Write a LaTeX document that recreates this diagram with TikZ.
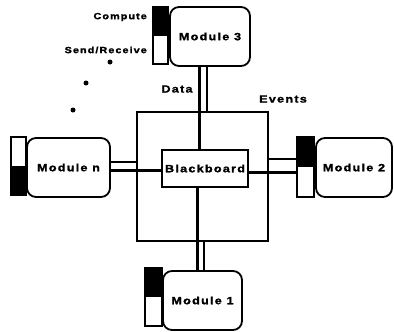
\documentclass[tikz,border=0pt]{standalone}
\usepackage{fontspec}
\newfontfamily\lblfont[FakeStretch=1.2,LetterSpace=12,FakeBold=1.5]{Liberation Sans}
\begin{document}
\begin{tikzpicture}[x=1pt,y=-1pt,
  modbox/.style={draw, line width=1.8pt, rounded corners=9pt, fill=white, inner sep=0pt,
    font={\lblfont\bfseries\fontsize{10.5}{12}\selectfont}},
  bbox/.style={draw, line width=1.8pt, fill=white, inner sep=0pt,
    font={\lblfont\bfseries\fontsize{10.5}{12}\selectfont}},
  barbox/.style={draw, line width=1.6pt, fill=white, inner sep=0pt},
  busbox/.style={draw, line width=1.1pt, inner sep=0pt},
  thickln/.style={line width=3pt},
  thinln/.style={line width=1.1pt},
  midlbl/.style={inner sep=0pt, font={\lblfont\bfseries\fontsize{10.5}{12}\selectfont}},
  smalllbl/.style={inner sep=0pt, font={\lblfont\bfseries\fontsize{9}{10}\selectfont}},
  dotmark/.style={circle, fill, inner sep=0pt, minimum size=5pt}
]
\useasboundingbox (0,0) rectangle (394,332);
% bus frame
\node[busbox, minimum width=131pt, minimum height=129pt] (bus) at (202.5,176.5) {};
% reference coordinates for connector positions
\coordinate (xt) at (199,0);
\coordinate (xts) at (207,0);
\coordinate (xb) at (197,0);
\coordinate (xbs) at (204,0);
\coordinate (yl) at (0,170);
\coordinate (yls) at (0,162);
\coordinate (yr) at (0,172);
\coordinate (yrs) at (0,159);
% modules
\node[modbox, minimum width=80pt, minimum height=59pt] (m3) at (210,36.5) {Module 3};
\node[modbox, minimum width=83pt, minimum height=59pt] (mn) at (68.5,167.5) {Module n};
\node[modbox, minimum width=76pt, minimum height=59pt] (m2) at (354,167.5) {Module 2};
\node[modbox, minimum width=79pt, minimum height=59pt] (m1) at (202.5,300.5) {Module 1};
\node[bbox, minimum width=86pt, minimum height=37pt] (bb) at (205,168.5) {Blackboard};
% status bars
\node[barbox, minimum width=15pt, minimum height=57pt] (m3bar) at (160.5,35.5) {};
\node[barbox, minimum width=15pt, minimum height=58pt] (mnbar) at (18.5,166) {};
\node[barbox, minimum width=17pt, minimum height=60pt] (m2bar) at (305.5,167) {};
\node[barbox, minimum width=17pt, minimum height=58pt] (m1bar) at (153.5,297) {};
\fill (m3bar.north west) rectangle (m3bar.east);
\fill (mnbar.south west) rectangle (mnbar.east);
\fill (m2bar.north west) rectangle (m2bar.east);
\fill (m1bar.north west) rectangle (m1bar.east);
% connectors
\draw[thickln] (m3.south -| xt) -- (bb.north -| xt);
\draw[thinln] (m3.south -| xts) -- (bus.north -| xts);
\draw[thickln] (bb.south -| xb) -- (m1.north -| xb);
\draw[thinln] (bus.south -| xbs) -- (m1.north -| xbs);
\draw[thickln] (mn.east |- yl) -- (bb.west |- yl);
\draw[thinln] (mn.east |- yls) -- (bus.west |- yls);
\draw[thickln] (bb.east |- yr) -- (m2bar.west |- yr);
\draw[thinln] (bus.east |- yrs) -- (m2bar.west |- yrs);
% labels
\node[smalllbl, anchor=east] (cl) at (147,17) {Compute};
\node[smalllbl, anchor=east] (sl) at (147,50) {Send/Receive};
\node[midlbl] (dl) at (177,89) {Data};
\node[midlbl] (el) at (283,99) {Events};
% dots
\node[dotmark] (d1) at (110,62) {};
\node[dotmark] (d2) at (86,83) {};
\node[dotmark] (d3) at (73,110) {};
\end{tikzpicture}
\end{document}
